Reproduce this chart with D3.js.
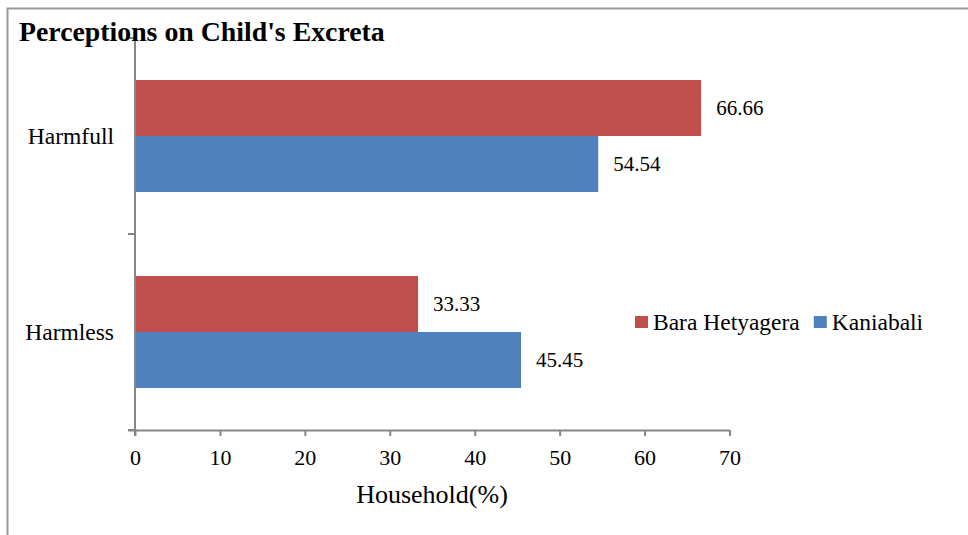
<!DOCTYPE html>
<html>
<head>
<meta charset="utf-8">
<script src="https://cdn.jsdelivr.net/npm/d3@7"></script>
<style>
  html, body { margin: 0; padding: 0; background: #fff; }
</style>
</head>
<body>
<svg id="chart" width="968" height="535"></svg>
<script>
const categories = ["Harmfull", "Harmless"];
const seriesNames = ["Bara Hetyagera", "Kaniabali"];
const baraHetyagera = [66.66, 33.33];
const kaniabali = [54.54, 45.45];
const xTicks = [0, 10, 20, 30, 40, 50, 60, 70];
const colors = ["#C0504D", "#4F81BD"];
const title = "Perceptions on Child's Excreta";
const xTitle = "Household(%)";

(function () {
const FONT = "'Liberation Serif', 'Times New Roman', Tinos, 'DejaVu Serif', serif";
const svg = d3.select("#chart").attr("font-family", FONT);
const pLeft = 135, pRight = 729.5, pTop = 38, pBottom = 430;

// outer border
svg.append("rect").attr("x", 7.5).attr("y", 8.5).attr("width", 1000).attr("height", 600)
  .attr("fill", "none").attr("stroke", "#999").attr("stroke-width", 2);

const x = d3.scaleLinear().domain([0, 70]).range([pLeft, pRight]);
const y = d3.scaleBand().domain(categories).range([pTop, pBottom]);
const sub = d3.scaleBand().domain(seriesNames).range([0, y.bandwidth()]).paddingOuter(0.75).paddingInner(0);

const series = [baraHetyagera, kaniabali];

series.forEach((vals, si) => {
  svg.append("g").selectAll("rect").data(categories).join("rect")
    .attr("x", x(0))
    .attr("y", d => y(d) + sub(seriesNames[si]))
    .attr("width", (d, i) => x(vals[i]) - x(0))
    .attr("height", sub.bandwidth())
    .attr("fill", colors[si]);
  svg.append("g").selectAll("text").data(categories).join("text")
    .attr("x", (d, i) => x(vals[i]) + 15)
    .attr("y", d => y(d) + sub(seriesNames[si]) + sub.bandwidth() / 2)
    .attr("dy", "0.35em")
    .attr("font-size", 21)
    .attr("font-family", FONT)
    .text((d, i) => vals[i].toFixed(2));
});

// x axis
const xAxis = svg.append("g").attr("transform", `translate(0,${pBottom})`)
  .call(d3.axisBottom(x).tickValues(xTicks).tickSize(6).tickSizeOuter(0).tickPadding(13));
xAxis.attr("font-family", FONT).attr("font-size", 22);
xAxis.select(".domain").attr("stroke", "#868686").attr("stroke-width", 2)
  .attr("d", `M${pLeft - 7},0.5H${pRight}`);
xAxis.selectAll(".tick line").attr("stroke", "#868686").attr("stroke-width", 2);
xAxis.selectAll(".tick text").attr("fill", "#000");

// y axis
const yAxis = svg.append("g").attr("transform", `translate(${pLeft},0)`);
yAxis.append("line").attr("x1", 0).attr("x2", 0).attr("y1", pTop).attr("y2", pBottom + 6)
  .attr("stroke", "#868686").attr("stroke-width", 2);
const yTickPos = [pTop, pTop + y.bandwidth(), pBottom];
yAxis.selectAll("line.t").data(yTickPos).join("line").attr("class", "t")
  .attr("x1", -7).attr("x2", 0).attr("y1", d => d).attr("y2", d => d)
  .attr("stroke", "#868686").attr("stroke-width", 2);
yAxis.selectAll("text").data(categories).join("text")
  .attr("x", -21).attr("y", d => y(d) + y.bandwidth() / 2)
  .attr("dy", "0.35em").attr("text-anchor", "end").attr("font-size", 23.5)
  .attr("font-family", FONT)
  .text(d => d);

// axis title
svg.append("text").attr("x", 432).attr("y", 503)
  .attr("text-anchor", "middle").attr("font-size", 26).attr("font-family", FONT).text(xTitle);

// title
svg.append("text").attr("x", 19).attr("y", 41).attr("font-size", 27.8)
  .attr("font-weight", "bold").attr("font-family", FONT).text(title);

// legend
const lg = svg.append("g").attr("transform", "translate(635,322)");
let lx = 0;
seriesNames.forEach((n, i) => {
  const g = lg.append("g").attr("transform", `translate(${lx},0)`);
  g.append("rect").attr("x", 0).attr("y", -6).attr("width", 13).attr("height", 12).attr("fill", colors[i]);
  const t = g.append("text").attr("x", 18).attr("dy", "0.35em").attr("font-size", 23.5)
    .attr("font-family", FONT).text(n);
  lx += 18 + t.node().getComputedTextLength() + 14;
});
})();
</script>
</body>
</html>
